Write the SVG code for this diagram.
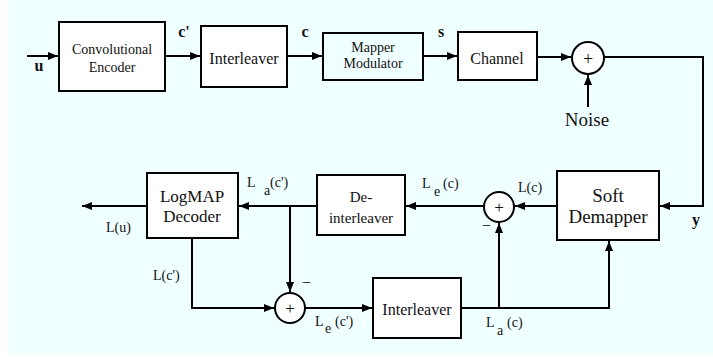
<svg xmlns="http://www.w3.org/2000/svg" width="713" height="358" viewBox="0 0 713 358">
  <defs>
    <marker id="arrow" markerUnits="userSpaceOnUse" markerWidth="11" markerHeight="8" refX="10" refY="4" orient="auto">
      <path d="M0,0 L10,4 L0,8 z" fill="#000"/>
    </marker>
    <style>
      .box { fill: #fff; stroke: #000; stroke-width: 2; }
      .box-clear { fill: none; stroke: #000; stroke-width: 2; }
      .sum { fill: #fff; stroke: #000; stroke-width: 2; }
      .wire { fill: none; stroke: #000; stroke-width: 2; marker-end: url(#arrow); }
      text { font-family: "Liberation Serif", "Times New Roman", serif; fill: #111; }
      .lbl { font-size: 14px; text-anchor: middle; }
      .sig { font-size: 16px; font-weight: bold; text-anchor: middle; }
      .tag { font-size: 14px; }
      .sub { font-size: 14px; }
    </style>
  </defs>

  <!-- backdrop -->
  <rect x="0" y="0" width="713" height="358" fill="#fff"/>
  <rect x="8" y="0" width="705" height="355" fill="#f0ffff"/>

  <!-- transmitter chain -->
  <g id="encoder">
    <rect class="box" x="59" y="22" width="106" height="69"/>
    <text class="lbl" x="112" y="54">Convolutional</text>
    <text class="lbl" x="112" y="72">Encoder</text>
  </g>
  <g id="interleaver-tx">
    <rect class="box" x="201" y="26" width="86" height="61"/>
    <text class="lbl" x="244" y="64" style="font-size:16px">Interleaver</text>
  </g>
  <g id="mapper">
    <rect class="box-clear" x="323" y="33" width="100" height="47"/>
    <text class="lbl" x="373" y="52">Mapper</text>
    <text class="lbl" x="373" y="68">Modulator</text>
  </g>
  <g id="channel">
    <rect class="box" x="458" y="32" width="79" height="48"/>
    <text class="lbl" x="497" y="64" style="font-size:16px">Channel</text>
  </g>
  <g id="noise-adder">
    <circle class="sum" cx="588" cy="58" r="16"/>
    <text class="lbl" x="588" y="65" style="font-size:18px">+</text>
  </g>
  <g id="noise">
    <text class="lbl" x="587" y="126" style="font-size:19px">Noise</text>
  </g>

  <!-- receiver loop -->
  <g id="soft-demapper">
    <rect class="box" x="557" y="171" width="102" height="69"/>
    <text class="lbl" x="608" y="202" style="font-size:19px">Soft</text>
    <text class="lbl" x="608" y="223" style="font-size:19px">Demapper</text>
  </g>
  <g id="extrinsic-sum">
    <circle class="sum" cx="499" cy="207" r="15"/>
    <text class="lbl" x="499" y="213" style="font-size:17px">+</text>
  </g>
  <g id="deinterleaver">
    <rect class="box" x="317" y="175" width="88" height="60"/>
    <text class="lbl" x="361" y="202" style="font-size:15px">De-</text>
    <text class="lbl" x="361" y="223" style="font-size:15px">interleaver</text>
  </g>
  <g id="logmap-decoder">
    <rect class="box" x="147" y="173" width="91" height="65"/>
    <text class="lbl" x="192" y="202" style="font-size:17px">LogMAP</text>
    <text class="lbl" x="192" y="222" style="font-size:17px">Decoder</text>
  </g>
  <g id="decoder-sum">
    <circle class="sum" cx="290" cy="308" r="15"/>
    <text class="lbl" x="290" y="314" style="font-size:17px">+</text>
  </g>
  <g id="interleaver-rx">
    <rect class="box" x="373" y="278" width="88" height="60"/>
    <text class="lbl" x="417" y="315" style="font-size:16px">Interleaver</text>
  </g>

  <!-- connectors -->
  <g id="connectors">
    <path class="wire" d="M27,56 L58,56"/>
    <path class="wire" d="M165,56 L200,56"/>
    <path class="wire" d="M287,56 L322,56"/>
    <path class="wire" d="M423,56 L457,56"/>
    <path class="wire" d="M537,57 L571,57"/>
    <path class="wire" d="M588,107 L588,75"/>
    <path class="wire" d="M604,57 L703,57 L703,206 L660,206"/>
    <path class="wire" d="M557,206 L515,206"/>
    <path class="wire" d="M484,206 L406,206"/>
    <path class="wire" d="M317,206 L239,206"/>
    <path class="wire" d="M290,206 L290,292"/>
    <path class="wire" d="M147,206 L82,206"/>
    <path class="wire" d="M192,238 L192,308 L274,308"/>
    <path class="wire" d="M305,308 L372,308"/>
    <path class="wire" d="M461,308 L609,308 L609,241"/>
    <path class="wire" d="M499,308 L499,223"/>
  </g>

  <!-- signal labels -->
  <g id="labels">
    <text class="sig" x="39" y="71">u</text>
    <text class="sig" x="184" y="37">c'</text>
    <text class="sig" x="305" y="37">c</text>
    <text class="sig" x="441" y="37">s</text>
    <text class="sig" x="696" y="225">y</text>

    <text class="tag" x="106" y="232">L(u)</text>
    <text class="tag" x="153" y="280">L(c')</text>
    <text class="tag" x="518" y="192">L(c)</text>

    <text class="tag" x="247" y="187">L</text>
    <text class="sub" x="264" y="195">a</text>
    <text class="tag" x="270" y="187">(c')</text>

    <text class="tag" x="422" y="188">L</text>
    <text class="sub" x="434" y="196">e</text>
    <text class="tag" x="443" y="188">(c)</text>

    <text class="tag" x="315" y="326">L</text>
    <text class="sub" x="325" y="333">e</text>
    <text class="tag" x="335" y="326">(c')</text>

    <text class="tag" x="486" y="327">L</text>
    <text class="sub" x="497" y="335">a</text>
    <text class="tag" x="507" y="327">(c)</text>

    <text class="tag" x="302" y="288" style="font-size:16px">−</text>
    <text class="tag" x="482" y="231" style="font-size:16px">−</text>
  </g>
</svg>
